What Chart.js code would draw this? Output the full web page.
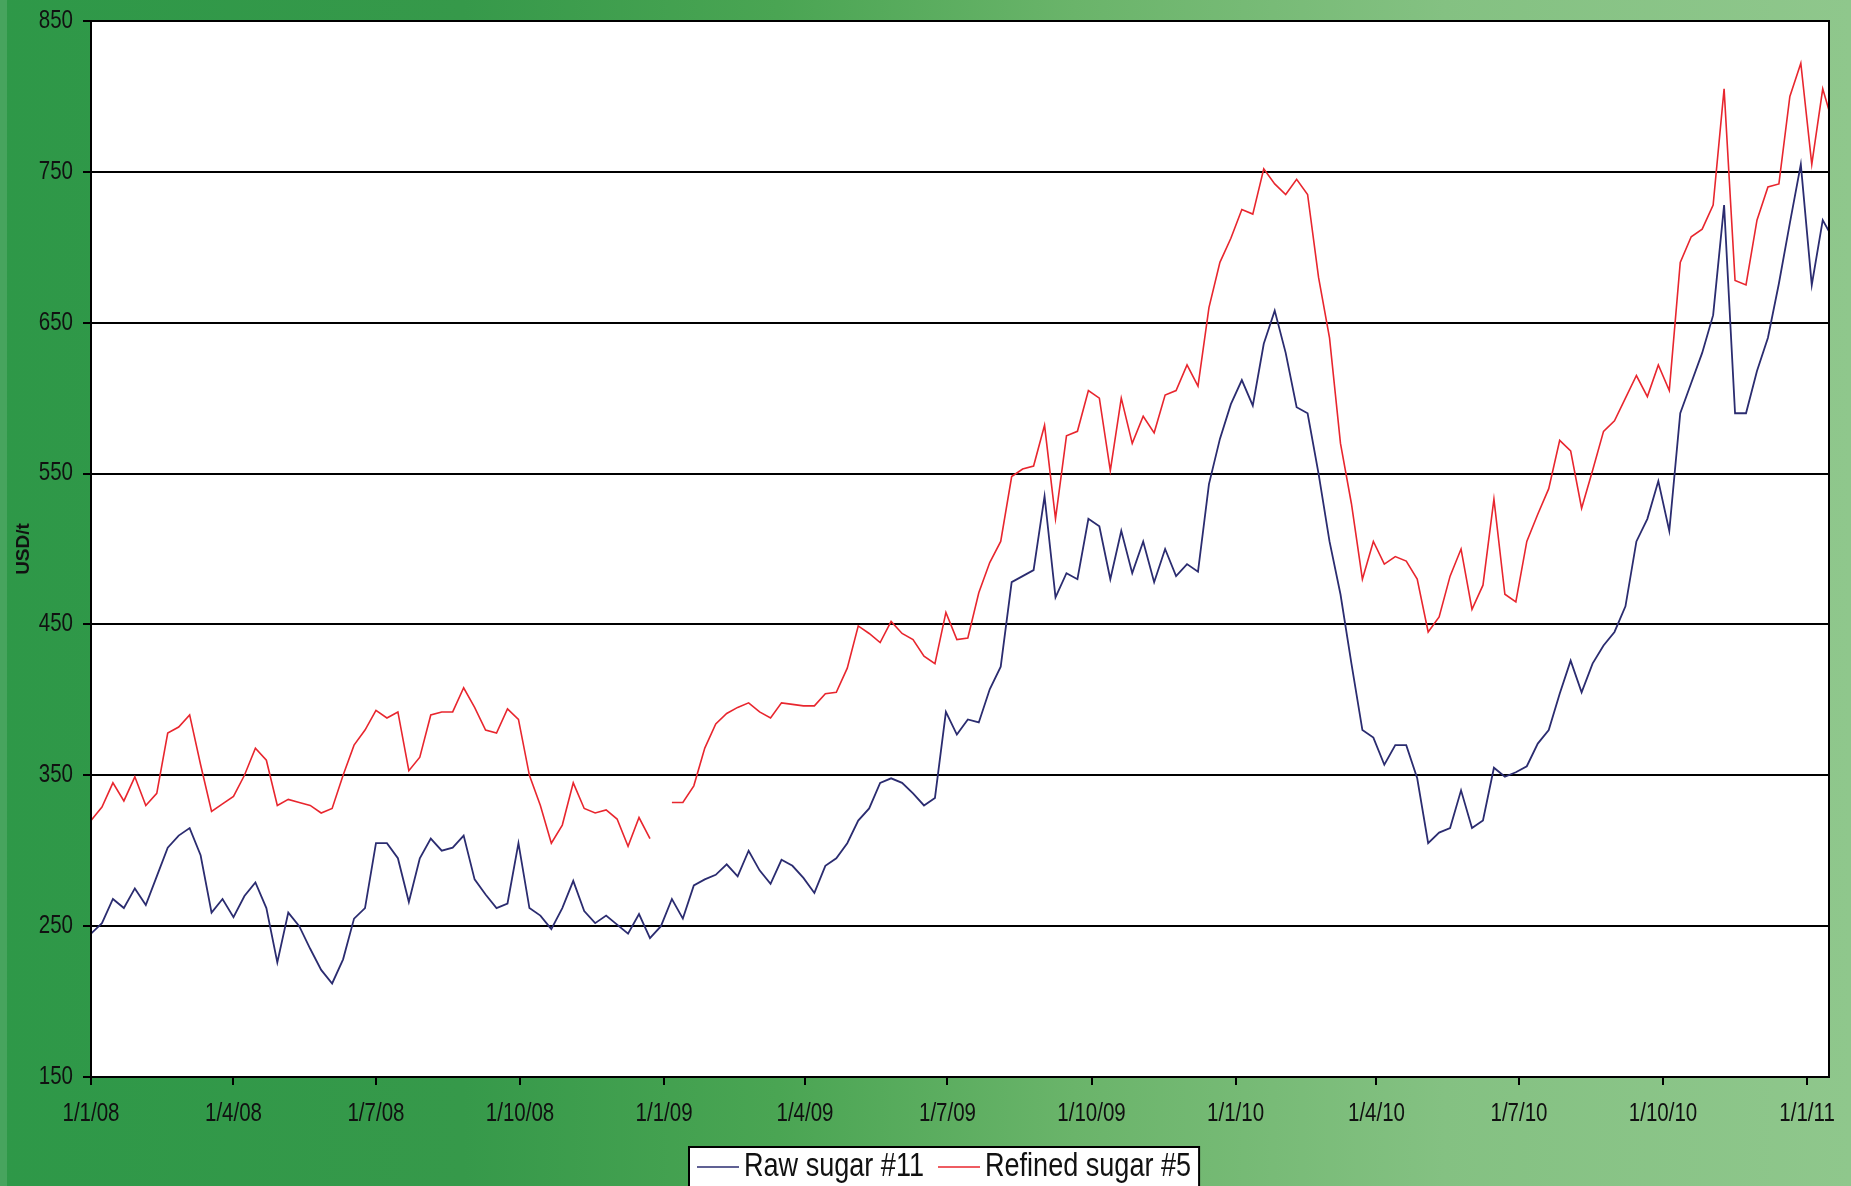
<!DOCTYPE html>
<html>
<head>
<meta charset="utf-8">
<title>Raw and refined sugar prices</title>
<script src="https://cdn.jsdelivr.net/npm/chart.js@4.4.1/dist/chart.umd.min.js"></script>
<style>
  html, body { margin: 0; padding: 0; }
  body {
    width: 1851px; height: 1186px; overflow: hidden;
    background: linear-gradient(to right, #2e9848 0%, #36994a 25%, #4aa553 42%, #6ab46a 58%, #84c182 78%, #8fc78c 100%);
  }
  #wrap { position: relative; width: 1851px; height: 1186px; }
  #edge { position: absolute; left: 0; top: 0; width: 7px; height: 1186px; background: rgba(255,255,255,0.12); }
  canvas { position: absolute; left: 0; top: 0; }
</style>
</head>
<body>
<div id="wrap">
  <div id="edge"></div>
  <canvas id="chart" width="1851" height="1186"></canvas>
</div>
<script>
// Weekly closing prices, USD per tonne, one value every 7 days from 1 Jan 2008.
const seriesStart = '2008-01-01';
const stepDays = 7;

const rawSugar = [
  245, 252, 268, 262, 275, 264, 283, 302, 310, 315,
  297, 259, 268, 256, 270, 279, 262, 226, 259, 250,
  235, 221, 212, 228, 255, 262, 305, 305, 295, 266,
  295, 308, 300, 302, 310, 281, 271, 262, 265, 305,
  262, 257, 248, 262, 280, 260, 252, 257, 251, 245,
  258, 242, 250, 268, 255, 277, 281, 284, 291, 283,
  300, 287, 278, 294, 290, 282, 272, 290, 295, 305,
  320, 328, 345, 348, 345, 338, 330, 335, 392, 377,
  387, 385, 407, 422, 478, 482, 486, 535, 468, 484,
  480, 520, 515, 480, 512, 484, 505, 478, 500, 482,
  490, 485, 543, 573, 596, 612, 595, 636, 658, 630,
  594, 590, 550, 505, 470, 424, 380, 375, 357, 370,
  370, 348, 305, 312, 315, 340, 315, 320, 355, 349,
  352, 356, 371, 380, 404, 426, 405, 424, 436, 445,
  462, 505, 520, 545, 512, 590, 610, 630, 655, 728,
  590, 590, 618, 640, 676, 716, 755, 675, 718, 705
];

const refinedSugar = [
  320, 329, 345, 333, 349, 330, 338, 378, 382, 390,
  357, 326, 331, 336, 350, 368, 360, 330, 334, 332,
  330, 325, 328, 350, 370, 380, 393, 388, 392, 353,
  362, 390, 392, 392, 408, 395, 380, 378, 394, 387,
  350, 330, 305, 317, 345, 328, 325, 327, 321, 303,
  322, 308, null, 332, 332, 343, 368, 384, 391, 395,
  398, 392, 388, 398, 397, 396, 396, 404, 405, 421,
  449, 444, 438, 452, 444, 440, 429, 424, 458, 440,
  441, 471, 491, 505, 548, 553, 555, 582, 520, 575,
  578, 605, 600, 552, 600, 570, 588, 577, 602, 605,
  622, 608, 660, 690, 706, 725, 722, 752, 742, 735,
  745, 735, 680, 640, 570, 530, 480, 505, 490, 495,
  492, 480, 445, 455, 482, 500, 460, 476, 533, 470,
  465, 505, 523, 540, 572, 565, 527, 552, 578, 585,
  600, 615, 601, 622, 605, 690, 707, 712, 728, 805,
  678, 675, 718, 740, 742, 800, 822, 755, 805, 780
];

const seriesNames = ['Raw sugar #11', 'Refined sugar #5'];
const seriesColors = ['#2b2c70', '#e8262e'];

const tickDates = [
  '2008-01-01', '2008-04-01', '2008-07-01', '2008-10-01',
  '2009-01-01', '2009-04-01', '2009-07-01', '2009-10-01',
  '2010-01-01', '2010-04-01', '2010-07-01', '2010-10-01',
  '2011-01-01'
];
const tickLabels = [
  '1/1/08', '1/4/08', '1/7/08', '1/10/08',
  '1/1/09', '1/4/09', '1/7/09', '1/10/09',
  '1/1/10', '1/4/10', '1/7/10', '1/10/10',
  '1/1/11'
];
const axisEnd = '2011-01-15';
const yMin = 150, yMax = 850, yStep = 100;

const DAY_MS = 86400000;
const dayIndex = s => Math.round((Date.parse(s + 'T00:00:00Z') - Date.parse(seriesStart + 'T00:00:00Z')) / DAY_MS);
const tickDays = tickDates.map(dayIndex);
const toPoints = values => values.map((v, i) => ({ x: i * stepDays, y: v }));

const FONT = "'Liberation Sans', Arial, sans-serif";
const NARROW = 0.82;   // horizontal squeeze giving a condensed face

// Draws text squeezed horizontally around its anchor point.
function narrowText(ctx, text, x, y, align) {
  ctx.save();
  ctx.translate(x, y);
  ctx.scale(NARROW, 1);
  ctx.textAlign = align;
  ctx.textBaseline = 'middle';
  ctx.fillText(text, 0, 0);
  ctx.restore();
}

// White plot background and a black frame round the plot area.
const plotFrame = {
  id: 'plotFrame',
  beforeDraw(chart) {
    const a = chart.chartArea, ctx = chart.ctx;
    ctx.save();
    ctx.fillStyle = '#ffffff';
    ctx.fillRect(a.left, a.top, a.right - a.left, a.bottom - a.top);
    ctx.restore();
  },
  afterDatasetsDraw(chart) {
    const a = chart.chartArea, ctx = chart.ctx;
    ctx.save();
    ctx.strokeStyle = '#000';
    ctx.lineWidth = 2;
    ctx.strokeRect(a.left, a.top, a.right - a.left, a.bottom - a.top);
    ctx.restore();
  }
};

// Condensed tick labels placed at the scales' own tick positions.
const condensedTicks = {
  id: 'condensedTicks',
  afterDraw(chart) {
    const ctx = chart.ctx;
    const xs = chart.scales.x, ys = chart.scales.y;
    ctx.save();
    ctx.fillStyle = '#111';
    ctx.font = '25px ' + FONT;
    xs.ticks.forEach(t => {
      const label = tickLabels[tickDays.indexOf(t.value)];
      narrowText(ctx, label, xs.getPixelForValue(t.value), xs.top + 37, 'center');
    });
    ys.ticks.forEach(t => {
      narrowText(ctx, String(t.value), ys.right - 18, ys.getPixelForValue(t.value), 'right');
    });
    ctx.restore();
  }
};

// Boxed legend below the date axis.
const boxedLegend = {
  id: 'boxedLegend',
  afterDraw(chart) {
    const ctx = chart.ctx;
    const sets = chart.data.datasets;
    const sample = 42, gap = 5, itemGap = 14, padX = 8;
    ctx.save();
    ctx.font = '33px ' + FONT;
    const textW = s => ctx.measureText(s).width * NARROW;
    let w = padX * 2;
    sets.forEach((d, i) => {
      w += sample + gap + textW(d.label);
      if (i < sets.length - 1) w += itemGap;
    });
    const top = 1147, h = 60, left = 689;
    ctx.fillStyle = '#fff';
    ctx.fillRect(left, top, w, h);
    ctx.strokeStyle = '#000';
    ctx.lineWidth = 2;
    ctx.strokeRect(left, top, w, h);
    const cy = 1167;
    let x = left + padX;
    sets.forEach((d) => {
      ctx.strokeStyle = d.borderColor;
      ctx.lineWidth = 1.6;
      ctx.beginPath();
      ctx.moveTo(x, cy);
      ctx.lineTo(x + sample, cy);
      ctx.stroke();
      x += sample + gap;
      ctx.fillStyle = '#111';
      narrowText(ctx, d.label, x, cy, 'left');
      x += textW(d.label) + itemGap;
    });
    ctx.restore();
  }
};

new Chart(document.getElementById('chart'), {
  type: 'line',
  data: {
    datasets: [
      {
        label: seriesNames[0],
        data: toPoints(rawSugar),
        borderColor: seriesColors[0],
        borderWidth: 1.8,
        pointRadius: 0,
        tension: 0,
        spanGaps: false
      },
      {
        label: seriesNames[1],
        data: toPoints(refinedSugar),
        borderColor: seriesColors[1],
        borderWidth: 1.6,
        pointRadius: 0,
        tension: 0,
        spanGaps: false
      }
    ]
  },
  options: {
    responsive: false,
    animation: false,
    devicePixelRatio: 1,
    layout: { padding: { left: 0, top: 21, right: 22, bottom: 0 } },
    plugins: {
      legend: { display: false },
      tooltip: { enabled: false }
    },
    scales: {
      x: {
        type: 'linear',
        min: 0,
        max: dayIndex(axisEnd),
        afterBuildTicks(scale) { scale.ticks = tickDays.map(v => ({ value: v })); },
        afterFit(scale) { scale.height = 109; },
        ticks: { display: false, autoSkip: false, maxRotation: 0, minRotation: 0 },
        grid: { drawOnChartArea: false, drawTicks: true, tickLength: 8, color: '#000', lineWidth: 2 },
        border: { color: '#000', width: 2 }
      },
      y: {
        min: yMin,
        max: yMax,
        afterFit(scale) { scale.width = 91; },
        ticks: { display: false, stepSize: yStep },
        grid: { color: '#000', lineWidth: 2, tickLength: 8 },
        border: { color: '#000', width: 2 },
        title: {
          display: true,
          text: 'USD/t',
          color: '#111',
          font: { family: FONT, size: 19, weight: 'bold' },
          padding: { top: 12, bottom: 0 }
        }
      }
    }
  },
  plugins: [plotFrame, condensedTicks, boxedLegend]
});
</script>
</body>
</html>
